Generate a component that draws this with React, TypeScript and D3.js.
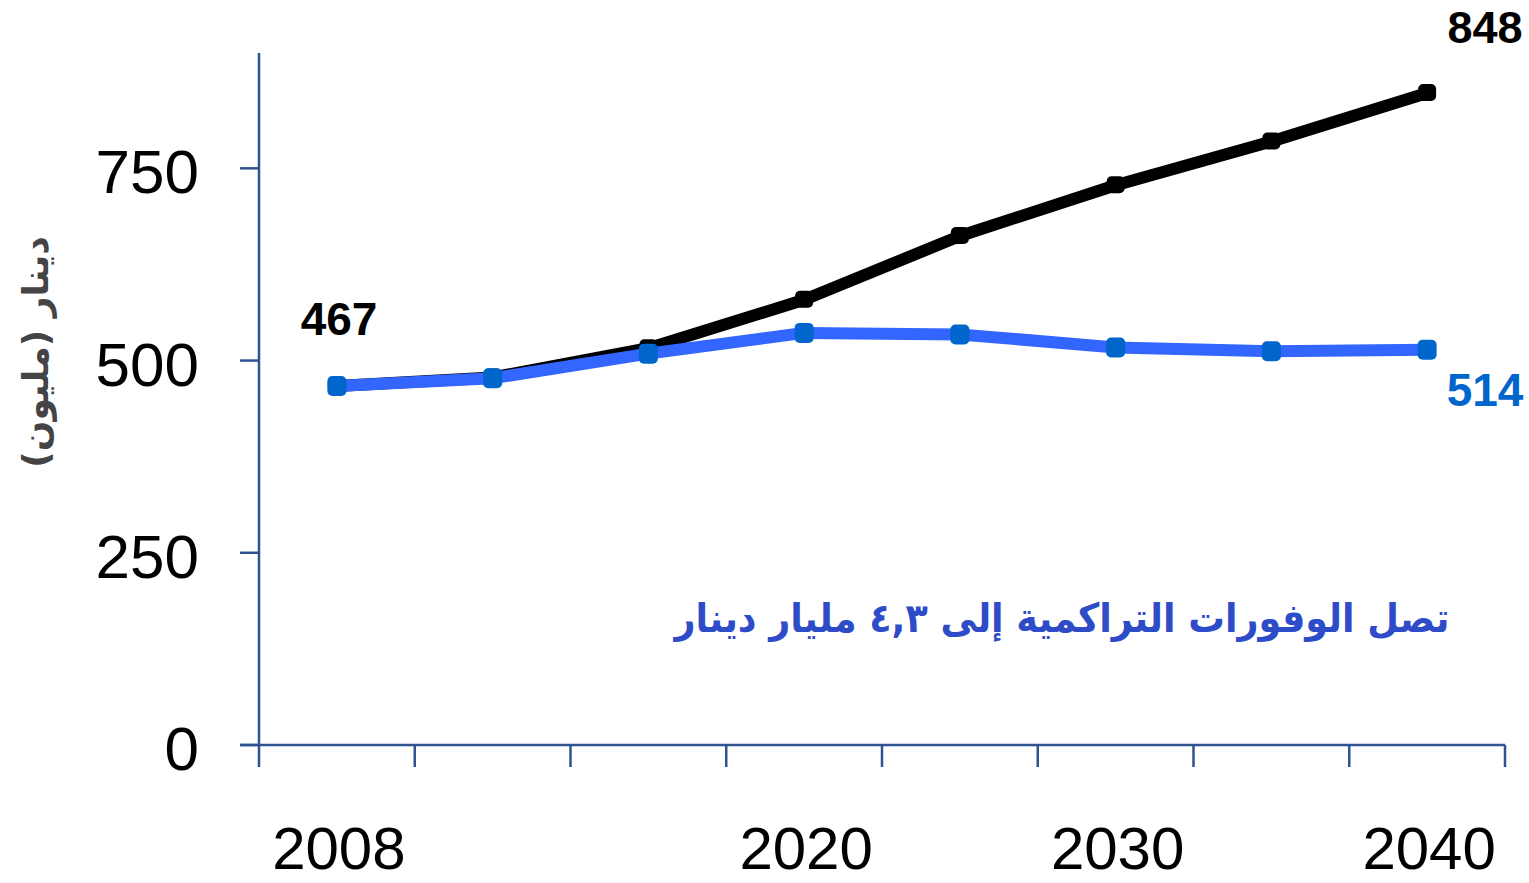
import React from "react";
import * as d3 from "d3";

const categories = ["2008", "2012", "2016", "2020", "2025", "2030", "2035", "2040"];
const shownYears = ["2008", "2020", "2030", "2040"];
const baseline = [467, 478, 516, 579, 662, 728, 785, 848];
const savings = [467, 477, 509, 536, 534, 517, 512, 514];
const yTicks = [0, 250, 500, 750];
const yTitle = "دينار (مليون)";
const note = "تصل الوفورات التراكمية إلى ٤,٣ مليار دينار";

const W = 1529;
const H = 883;

export default function App() {
  const x = d3.scaleBand<string>().domain(categories).range([259, 1505]).padding(0);
  const y = d3.scaleLinear().domain([0, 900]).range([745, 53]);
  const cx = (c: string) => (x(c) as number) + x.bandwidth() / 2;
  const line = d3
    .line<number>()
    .x((_, i) => cx(categories[i]))
    .y((d) => y(d));
  const axisColor = "#2F5391";
  const boundaries = categories.map((c) => x(c) as number).concat([1505]);
  const last = categories.length - 1;

  return (
    <svg
      width={W}
      height={H}
      style={{ position: "absolute", left: 0, top: 0, display: "block" }}
      fontFamily="'Liberation Sans', Arial, sans-serif"
    >
      <rect width={W} height={H} fill="#fff" />
      {/* axes */}
      <line x1={259} x2={259} y1={y(900)} y2={y(0)} stroke={axisColor} strokeWidth={2.5} />
      <line x1={240} x2={1505} y1={y(0)} y2={y(0)} stroke={axisColor} strokeWidth={2.5} />
      {yTicks.map((t) => (
        <g key={t}>
          <line x1={240} x2={259} y1={y(t)} y2={y(t)} stroke={axisColor} strokeWidth={2.5} />
          <text x={199} y={y(t) + 25} textAnchor="end" fontSize={62} fill="#000">
            {t}
          </text>
        </g>
      ))}
      {boundaries.map((b, i) => (
        <line key={i} x1={b} x2={b} y1={y(0)} y2={y(0) + 22} stroke={axisColor} strokeWidth={2.5} />
      ))}
      {categories.map((c) =>
        shownYears.includes(c) ? (
          <text key={c} x={cx(c) + 2} y={869} textAnchor="middle" fontSize={60} fill="#000">
            {c}
          </text>
        ) : null
      )}
      {/* y title */}
      <text
        transform={`translate(48,352) rotate(-90)`}
        textAnchor="middle"
        fontSize={36}
        fontWeight="bold"
        fill="#444"
        fontFamily="'DejaVu Sans', sans-serif"
        direction="rtl"
      >
        {yTitle}
      </text>
      {/* baseline series */}
      <path d={line(baseline) || ""} fill="none" stroke="#000" strokeWidth={12} strokeLinejoin="round" />
      {baseline.map((v, i) => (
        <rect
          key={i}
          x={cx(categories[i]) - 9}
          y={y(v) - 9}
          width={18}
          height={17}
          rx={5}
          fill="#000"
        />
      ))}
      {/* savings series */}
      <path d={line(savings) || ""} fill="none" stroke="#3366FF" strokeWidth={12} strokeLinejoin="round" />
      {savings.map((v, i) => (
        <rect
          key={i}
          x={cx(categories[i]) - 9.5}
          y={y(v) - 10}
          width={19}
          height={20}
          rx={5}
          fill="#0066CC"
        />
      ))}
      {/* value labels */}
      <text x={339} y={335} textAnchor="middle" fontSize={46} fontWeight="bold" fill="#000">
        {baseline[0]}
      </text>
      <text x={1485} y={43} textAnchor="middle" fontSize={45} fontWeight="bold" fill="#000">
        {baseline[last]}
      </text>
      <text x={1485} y={406} textAnchor="middle" fontSize={46} fontWeight="bold" fill="#0066CC">
        {savings[last]}
      </text>
      {/* annotation */}
      <text
        x={1062}
        y={632}
        textAnchor="middle"
        fontSize={40}
        fontWeight="bold"
        fill="#2E4BC8"
        fontFamily="'DejaVu Sans', sans-serif"
        direction="rtl"
        textLength={775}
        lengthAdjust="spacingAndGlyphs"
      >
        {note}
      </text>
    </svg>
  );
}
